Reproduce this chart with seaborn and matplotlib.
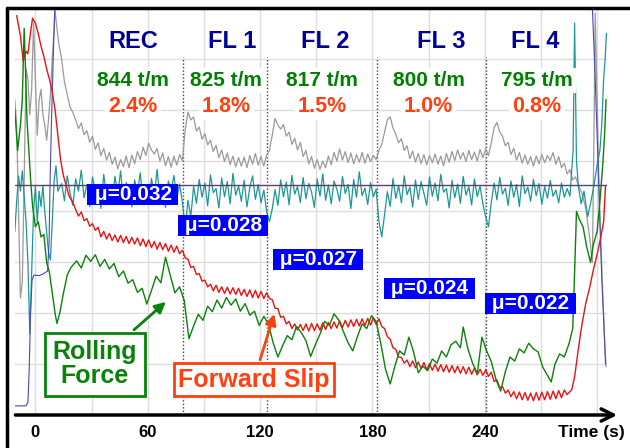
import numpy as np
import matplotlib
matplotlib.use("Agg")
import matplotlib.pyplot as plt
from matplotlib.lines import Line2D
import seaborn as sns

# ---- measured signals (time [s], level [arb. units]) ----
# the noisy middle parts are sampled every 1.5 s (SAMPLE_DT), edges as (t, y) pairs
SAMPLE_DT = 1.5

red_start = [(-10, 78.5), (-8, 74.5), (-6.5, 69.5), (-5, 71.5), (-4, 71), (-2.5, 75.5), (-1.5, 78),
             (0, 77), (1.5, 75), (3, 72.5), (4.5, 70.5), (6, 68), (7.5, 66), (9, 63.5), (10.5, 60),
             (12, 55), (13.5, 50), (15, 47), (16.5, 45), (18, 43)]
red_t0 = 20
red_band = [41.8, 40.4, 39.1, 39.9, 38.2, 38.6, 37.1, 37.6, 36.3, 36.9,
            35.0, 36.1, 34.6, 35.7, 34.3, 35.4, 34.0, 35.3, 33.9, 35.1,
            33.7, 34.9, 33.6, 34.8, 33.3, 34.6, 33.1, 34.4, 32.9, 34.1,
            32.6, 33.9, 32.5, 33.7, 32.2, 33.4, 32.0, 33.2, 31.7, 32.4,
            30.9, 30.6, 29.0, 29.2, 27.6, 27.8, 26.3, 26.5, 25.2, 25.7,
            24.4, 25.5, 24.1, 25.2, 23.9, 25.1, 23.8, 25.0, 23.7, 24.9,
            23.5, 24.7, 23.3, 24.6, 23.1, 24.5, 23.0, 24.3, 22.9, 24.0,
            22.9, 22.7, 21.0, 20.9, 19.2, 19.4, 17.9, 18.4, 17.0, 17.9,
            16.7, 17.8, 16.6, 17.9, 16.5, 18.0, 16.6, 17.9, 16.7, 18.1,
            16.8, 18.2, 17.0, 18.3, 17.1, 18.5, 17.2, 18.6, 17.3, 18.7,
            17.4, 18.8, 17.5, 18.9, 17.6, 19.0, 17.7, 19.1, 17.8, 18.9,
            17.4, 17.0, 15.4, 14.9, 13.2, 12.9, 11.4, 11.3, 10.2, 10.8,
            9.5, 10.6, 9.3, 10.4, 9.1, 10.3, 8.9, 10.1, 8.8, 10.0,
            8.6, 9.9, 8.5, 9.8, 8.4, 9.7, 8.3, 9.6, 8.2, 9.5,
            8.1, 9.4, 8.0, 9.2, 7.9, 9.0, 7.8, 8.9, 7.6, 8.4,
            6.6, 6.9, 5.4, 5.6, 4.3, 4.9, 3.6, 4.6, 3.2, 4.5,
            3.0, 4.4, 2.9, 4.3, 2.8, 4.4, 2.9, 4.5, 3.0, 4.6,
            3.1, 4.7, 3.2, 4.8, 3.4, 4.9, 4.0]
red_end = [(286.5, 5.0), (288, 7.5), (290, 13), (292, 18), (294, 22), (296, 25), (298, 28.5),
           (300, 31.5), (302, 35), (303.5, 38), (304.5, 45)]

green_pts = [
    (-11, 60), (-9.5, 52), (-8, 57), (-7, 62), (-6, 76), (-5.3, 68), (-4.5, 58), (-3.5, 52),
    (-2.5, 46), (-1.5, 41), (0, 37), (1.5, 38), (3, 35), (4.5, 35.5), (6, 30), (7.5, 28),
    (9, 24), (10.5, 20), (11.5, 18), (13, 20), (15, 24), (17, 27.5), (19, 29), (22, 30.3),
    (24.5, 28.9), (27, 31.4), (29.5, 30.2), (32, 31.5), (34.5, 29.2), (37, 30.6), (39.5, 28.7),
    (42, 29.8), (44.5, 27.2), (47, 28.3), (49.5, 25.9), (52, 26.6), (54.5, 24.1), (57, 24.9),
    (59.5, 21.8), (62, 24.5), (64.5, 27.3), (67, 26.0), (69.5, 31.0), (72, 27.5), (74.5, 24.0),
    (77, 25.2), (79.5, 22.5), (82, 15.0), (84.5, 17.5), (87, 19.8), (89.5, 18.6), (92, 21.4),
    (94.5, 20.3), (97, 22.6), (99.5, 21.0), (102, 23.1), (104.5, 21.6), (107, 22.8), (109.5, 20.4),
    (112, 21.9), (114.5, 19.6), (117, 20.4), (119.5, 17.6), (122, 19.4), (124.5, 17.8), (127, 14.2),
    (129.5, 11.4), (132, 13.6), (134.5, 15.6), (137, 14.8), (139.5, 17.4), (142, 16.2), (144.5, 14.6),
    (147, 11.5), (149.5, 13.8), (152, 15.9), (154.5, 18.4), (157, 17.6), (159.5, 19.9), (162, 18.7),
    (164.5, 16.4), (167, 14.2), (169.5, 12.6), (172, 15.4), (174.5, 17.9), (177, 17.0), (179.5, 19.5),
    (182, 18.4), (184.5, 14.0), (187, 9.0), (189.5, 6.1), (192, 9.6), (194.5, 12.6), (197, 11.8),
    (199.5, 15.3), (202, 12.4), (204.5, 8.3), (207, 9.6), (209.5, 8.7), (212, 11.0), (214.5, 10.2),
    (217, 12.6), (219.5, 11.4), (222, 13.8), (224.5, 14.5), (227, 13.2), (228.5, 17.3), (231, 13.0),
    (233.5, 10.2), (236, 8.1), (238.5, 15.3), (241, 12.6), (243.5, 10.5), (246, 7.0), (248.5, 4.7),
    (251, 8.5), (253.5, 11.4), (256, 10.6), (258.5, 13.0), (261, 12.2), (263.5, 14.1), (266, 13.0),
    (268.5, 12.4), (271, 9.4), (273.5, 7.8), (275.5, 6.5), (277.5, 10.0), (280, 12.0), (282.5, 11.4),
    (285, 14.0), (287, 17.0), (288, 28), (289, 40), (290.5, 38.5), (292.5, 37.0), (294.5, 33.0),
    (296.5, 30.0), (298, 33.5), (300, 36), (301.5, 42), (303, 49), (304, 55), (304.8, 62),
]

teal_start = [(-11, 36), (-10, 42), (-9, 47), (-8, 44), (-7, 48), (-6, 43), (-5, 38), (-4, 30),
              (-3, 16), (-2, 28), (-1, 40), (0, 45), (1, 38), (2, 44), (3, 41), (4, 45), (5, 40),
              (6, 36), (7, 32), (8, 30.5), (9, 38), (10, 46), (11, 49), (12, 44)]
teal_t0 = 14
teal_band = [45.5, 42.1, 47.0, 43.6, 41.2, 46.4, 44.0, 48.1, 42.7, 45.3,
             41.0, 46.8, 43.9, 45.2, 40.6, 47.3, 43.1, 44.6, 41.8, 46.9,
             43.4, 48.0, 42.0, 45.7, 44.1, 40.9, 46.2, 43.5, 47.6, 42.3,
             44.8, 41.4, 46.5, 43.0, 48.3, 42.6, 45.1, 40.8, 46.0, 44.2,
             47.1, 42.5, 45.4, 41.9, 36.5, 42.2, 39.0, 44.9, 41.6, 46.3,
             42.8, 45.6, 41.1, 47.2, 43.7, 44.5, 40.7, 46.6, 42.9, 45.9,
             41.5, 47.5, 43.2, 45.0, 42.0, 46.1, 40.9, 44.7, 47.0, 42.4,
             45.3, 41.7, 44.2, 40.0, 38.0, 40.5, 44.3, 41.2, 46.2, 42.9,
             45.8, 41.3, 47.1, 43.4, 44.9, 41.8, 46.7, 42.5, 45.5, 43.8,
             40.8, 46.4, 43.0, 47.4, 42.2, 45.2, 41.5, 46.0, 44.4, 42.0,
             46.9, 43.5, 45.3, 40.6, 46.3, 42.8, 47.8, 43.1, 44.6, 41.4,
             45.7, 42.9, 44.4, 38.0, 35.0, 39.5, 43.9, 41.0, 46.5, 42.6,
             45.1, 41.7, 47.0, 43.3, 44.8, 40.9, 46.2, 42.4, 45.9, 43.6,
             41.2, 46.8, 43.0, 45.6, 42.1, 47.3, 43.8, 44.5, 40.7, 46.1,
             42.7, 45.4, 41.6, 46.9, 43.2, 44.9, 41.3, 46.4, 42.9, 45.0,
             41.5, 39.0, 37.0, 41.8, 45.6, 42.3, 46.7, 43.4, 44.6, 41.2,
             46.0, 42.8, 45.3, 41.0, 47.0, 43.5, 44.8, 42.0, 46.3, 43.1,
             45.5, 41.4, 44.9, 42.6, 46.1, 43.0, 44.2, 41.7, 45.6, 42.8,
             44.5, 43.0]
teal_end = [(287.2, 52), (288, 77), (289, 50), (290, 45), (291.5, 41.5), (293, 44), (295, 39),
            (297, 42.5), (298.5, 45.5), (300, 49), (301.5, 52), (302.5, 57), (303.5, 66),
            (304.3, 70), (305, 75)]

gray_start = [(-11, 62), (-10, 57), (-9, 40), (-8, 23), (-7, 26), (-6, 46), (-5, 68), (-4, 66),
              (-3, 59), (-2, 64), (-1, 77), (0, 66), (1, 55), (2, 62), (3, 64), (4, 59), (5, 57),
              (6, 54), (7, 58), (8, 63), (9, 70), (10, 76), (10.5, 79.5), (11.5, 76), (12.5, 73),
              (14, 70), (15.5, 65.5), (17, 63), (18.5, 60.5)]
gray_t0 = 20
gray_band = [59.5, 58.0, 56.3, 57.4, 55.1, 55.9, 53.6, 54.8, 52.2, 53.5,
             51.0, 52.4, 50.1, 51.6, 49.3, 50.7, 48.4, 50.2, 48.8, 50.9,
             48.6, 51.1, 49.4, 51.8, 50.2, 52.6, 51.0, 53.4, 52.1, 51.3,
             52.4, 49.9, 51.5, 49.0, 50.8, 48.7, 50.9, 49.1, 51.2, 50.0,
             56.0, 59.5, 58.0, 58.6, 55.8, 56.6, 54.2, 55.3, 53.1, 54.0,
             51.8, 53.0, 50.6, 52.1, 49.8, 51.5, 49.2, 50.9, 48.8, 50.6,
             48.9, 50.7, 48.6, 51.0, 49.3, 51.4, 49.1, 50.8, 48.9, 51.1,
             52.0, 55.0, 58.3, 57.0, 56.2, 57.1, 54.8, 55.6, 53.2, 54.4,
             52.1, 53.6, 50.8, 52.0, 49.4, 50.8, 48.5, 50.2, 48.3, 49.9,
             48.6, 50.9, 49.2, 51.6, 49.9, 52.3, 50.1, 51.8, 49.6, 51.5,
             49.4, 51.2, 49.7, 51.6, 49.5, 51.3, 49.8, 51.0, 50.2, 52.0,
             53.2, 55.6, 58.0, 58.6, 56.4, 55.2, 53.5, 54.3, 52.0, 52.9,
             50.4, 51.9, 49.7, 51.4, 49.4, 51.2, 49.2, 51.0, 49.6, 51.3,
             49.3, 50.9, 49.0, 51.4, 49.7, 51.8, 50.0, 52.1, 50.3, 51.6,
             49.8, 52.0, 50.2, 51.7, 49.9, 52.2, 50.6, 52.3, 51.0, 53.5,
             56.5, 57.5, 55.6, 54.8, 52.9, 53.6, 51.2, 52.4, 50.1, 51.6,
             49.5, 51.1, 49.3, 50.8, 48.9, 50.9, 49.4, 51.2, 49.6, 51.0,
             50.0, 51.6, 49.3, 50.8, 48.6, 49.5, 47.4, 48.2, 46.2, 46.8]
gray_end = [(290, 45.2), (292, 43.5), (294, 40.5), (296, 35.0), (297.5, 30.0), (298.5, 60),
            (299, 79), (300, 62), (301, 45), (302, 34), (303, 24), (304, 15), (304.8, 9.5)]

blue_start = [(-11, 1.8), (-5, 1.8), (-4, 2.5), (-3.3, 9), (-2.6, 20), (-1.8, 26.5), (-0.8, 27.5),
              (2, 27.4), (4, 27.7), (6.5, 28.3), (7.3, 34), (7.8, 45), (8.6, 58), (9.5, 70),
              (10.3, 79.5)]
blue_end = [(297.5, 80), (299, 66), (300.5, 50), (301.5, 38), (302.5, 27), (303.5, 19), (304.5, 10)]

mu_ref = 45.2  # horizontal reference level

# ---- labels ----
stages = ["REC", "FL 1", "FL 2", "FL 3", "FL 4"]
stage_x = [52, 105, 155, 217, 267]
forces = ["844 t/m", "825 t/m", "817 t/m", "800 t/m", "795 t/m"]
force_x = [52, 102, 153, 210, 268]
slips = ["2.4%", "1.8%", "1.5%", "1.0%", "0.8%"]
mus = ["μ=0.032", "μ=0.028", "μ=0.027", "μ=0.024", "μ=0.022"]
mu_x = [52.1, 100.2, 150.9, 210.7, 264.2]
mu_y = [43.4, 37.3, 30.5, 24.9, 22.0]
boundaries = [78.8, 123.7, 182.4, 240.7]
xticks = [0, 60, 120, 180, 240]
grid_x = [0, 30, 60, 90, 120, 150, 180, 210, 240, 270, 300]
grid_y = [10, 20, 30, 40, 50, 60, 70]

NAVY = "#000099"
GREEN = "#0a820a"
ORANGE = "#ff4010"


def signal(start, t0, band, end):
    """join edge pairs and the regularly sampled band into (t, y) arrays"""
    band_t = t0 + SAMPLE_DT * np.arange(len(band))
    t = np.concatenate([[p[0] for p in start], band_t, [p[0] for p in end]])
    y = np.concatenate([[p[1] for p in start], band, [p[1] for p in end]])
    return t, y


red_t, red_y = signal(red_start, red_t0, red_band, red_end)
teal_t, teal_y = signal(teal_start, teal_t0, teal_band, teal_end)
gray_t, gray_y = signal(gray_start, gray_t0, gray_band, gray_end)
green_arr = np.array(green_pts)

sns.set_theme(style="white")
plt.rcParams["font.family"] = ["Liberation Sans", "DejaVu Sans"]
plt.rcParams["font.weight"] = "bold"

fig = plt.figure(figsize=(6.3, 4.48), dpi=100)
ax = fig.add_axes([15 / 630, 33 / 448, 592 / 630, 407 / 448])
ax.set_xlim(-10.9, 305.3)
ax.set_ylim(0, 80)

for g in grid_x:
    ax.axvline(g, color="#dddddd", lw=1, zorder=0.5)
for g in grid_y:
    ax.axhline(g, color="#dddddd", lw=1, zorder=0.5)

ax.vlines(boundaries, 0, 70.3, colors="#444444", linestyles=(0, (1, 1.5)), lw=1, zorder=1)

# signals
sns.lineplot(x=gray_t, y=gray_y, ax=ax, color="#9a9a9a", lw=0.9,
             estimator=None, sort=False, zorder=2)
sns.lineplot(x=teal_t, y=teal_y, ax=ax, color="#1f9696", lw=0.9,
             estimator=None, sort=False, zorder=2.1)
for seg in (blue_start, blue_end):
    seg = np.array(seg)
    sns.lineplot(x=seg[:, 0], y=seg[:, 1], ax=ax, color="#4848b8", lw=0.8,
                 estimator=None, sort=False, zorder=2.2)
ax.axhline(mu_ref, color="#5b3f73", lw=1, zorder=2.3)
sns.lineplot(x=red_t, y=red_y, ax=ax, color="#ee1111", lw=1.0,
             estimator=None, sort=False, zorder=2.4)
sns.lineplot(x=green_arr[:, 0], y=green_arr[:, 1], ax=ax, color=GREEN, lw=1.0,
             estimator=None, sort=False, zorder=2.5)

# stage headers and values
for s, x in zip(stages, stage_x):
    ax.text(x, 73.5, s, color=NAVY, fontsize=17, ha="center", va="center", zorder=6)
for f, p, x in zip(forces, slips, force_x):
    ax.text(x, 65.8, f, color="#008000", fontsize=15, ha="center", va="center", zorder=6,
            bbox=dict(boxstyle="square,pad=0.15", fc="white", ec="none"))
    ax.text(x, 60.7, p, color=ORANGE, fontsize=15.5, ha="center", va="center", zorder=6,
            bbox=dict(boxstyle="square,pad=0.15", fc="white", ec="none"))

for m, x, y in zip(mus, mu_x, mu_y):
    ax.text(x, y, " " + m + " ", color="white", fontsize=15, ha="center", va="center", zorder=7,
            bbox=dict(boxstyle="square,pad=0.05", fc="#0000ff", ec="none"))

ax.annotate("Rolling\nForce", xy=(70.8, 22.6), xytext=(31.8, 10), color=GREEN, fontsize=18,
            ha="center", va="center", linespacing=1.0, zorder=7,
            bbox=dict(boxstyle="square,pad=0.3", fc="white", ec=GREEN, lw=2),
            arrowprops=dict(arrowstyle="-|>", color=GREEN, lw=2, mutation_scale=16))
ax.annotate("Forward Slip", xy=(128, 20.4), xytext=(116.7, 6.9), color=ORANGE, fontsize=18,
            ha="center", va="center", zorder=7,
            bbox=dict(boxstyle="square,pad=0.18", fc="white", ec=ORANGE, lw=2),
            arrowprops=dict(arrowstyle="-|>", color=ORANGE, lw=2, mutation_scale=16))

# axis
for sp in ax.spines.values():
    sp.set_visible(False)
ax.set_yticks([])
ax.set_xticks(xticks)
ax.set_xticks([300], minor=True)
ax.tick_params(axis="x", which="major", direction="in", length=9, width=2, color="black",
               pad=7, labelsize=12, labelcolor="black")
ax.tick_params(axis="x", which="minor", direction="in", length=9, width=1.5, color="black")
ax.annotate("", xy=(1.022, 0), xytext=(-0.004, 0), xycoords="axes fraction",
            arrowprops=dict(arrowstyle="->", lw=2.5, color="black", mutation_scale=22),
            annotation_clip=False)
ax.text(1.030, -0.044, "Time (s)", transform=ax.transAxes, ha="right", va="center",
        fontsize=12.5, color="black")

# outer frame
fig.add_artist(Line2D([7 / 630, 7 / 630], [0, 1 - 8 / 448], color="black", lw=2.5))
fig.add_artist(Line2D([7 / 630, 1], [1 - 8 / 448, 1 - 8 / 448], color="black", lw=2.5))

fig.savefig("out.png", dpi=100)
